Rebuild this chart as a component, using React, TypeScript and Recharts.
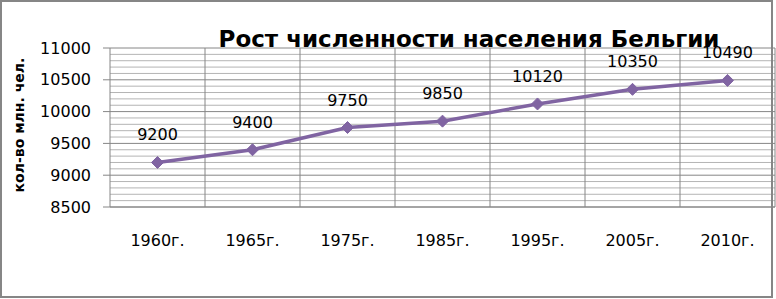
import React from "react";
import {
  LabelList,
  Line,
  LineChart,
  ReferenceLine,
  XAxis,
  YAxis,
} from "recharts";

const years = ["1960г.", "1965г.", "1975г.", "1985г.", "1995г.", "2005г.", "2010г."];
const population = [9200, 9400, 9750, 9850, 10120, 10350, 10490];
const majorTicks = [8500, 9000, 9500, 10000, 10500, 11000];
const minorTicks = [
  8600, 8700, 8800, 8900, 9100, 9200, 9300, 9400, 9600, 9700, 9800, 9900,
  10100, 10200, 10300, 10400, 10600, 10700, 10800, 10900,
];

const title = "Рост численности населения Бельгии";
const yTitle = "кол-во млн. чел.";

const W = 776;
const H = 299;
const font = "'DejaVu Sans', sans-serif";
const purple = "#8064a2";

const data = years.map((y, i) => ({ i, year: y, value: population[i] }));
// category boundaries for vertical gridlines
const bounds = years.map((_, i) => i + 0.5);

function Diamond(props: any) {
  const { cx, cy } = props;
  if (cx == null || cy == null) return null;
  const r = 6;
  return (
    <path
      d={`M${cx},${cy - r} L${cx + r},${cy} L${cx},${cy + r} L${cx - r},${cy} Z`}
      fill={purple}
      stroke={purple}
      strokeWidth={1}
    />
  );
}

function ValueLabel(props: any) {
  const { x, y, value } = props;
  return (
    <text x={x} y={y - 22} textAnchor="middle" fontSize={16} fontFamily={font} fill="#000">
      {value}
    </text>
  );
}

function XTick(props: any) {
  const { x, y, payload } = props;
  return (
    <text x={x} y={y + 31} textAnchor="middle" fontSize={16} fontFamily={font} fill="#000">
      {years[payload.value]}
    </text>
  );
}

export default function App() {
  return (
    <div style={{ position: "absolute", left: 0, top: 0, width: W, height: H, background: "#fff" }}>
      <LineChart
        width={W}
        height={H}
        data={data}
        margin={{ top: 48, right: 1, bottom: 0, left: 0 }}
      >
        <XAxis
          dataKey="i"
          type="number"
          domain={[-0.5, years.length - 0.5]}
          ticks={data.map((d) => d.i)}
          tick={<XTick />}
          tickLine={false}
          axisLine={{ stroke: "#868686" }}
          height={92}
          interval={0}
        />
        <YAxis
          domain={[8500, 11000]}
          ticks={majorTicks}
          width={110}
          tickSize={7}
          tickMargin={12}
          tickLine={{ stroke: "#868686" }}
          axisLine={{ stroke: "#868686" }}
          tick={{ fontSize: 16, fontFamily: font, fill: "#000" }}
          interval={0}
        />
        {minorTicks.map((t) => (
          <ReferenceLine key={`m${t}`} y={t} stroke="#b4b4b4" />
        ))}
        {majorTicks.map((t) => (
          <ReferenceLine key={`M${t}`} y={t} stroke="#868686" />
        ))}
        {bounds.map((b) => (
          <ReferenceLine key={b} x={b} stroke="#868686" />
        ))}
        <Line
          dataKey="value"
          stroke={purple}
          strokeWidth={3.5}
          dot={<Diamond />}
          activeDot={false}
          isAnimationActive={false}
        >
          <LabelList dataKey="value" content={<ValueLabel />} />
        </Line>
      </LineChart>
      <svg
        width={W}
        height={H}
        style={{ position: "absolute", left: 0, top: 0, pointerEvents: "none" }}
      >
        <text
          x={469}
          y={47}
          textAnchor="middle"
          fontSize={23}
          fontWeight="bold"
          fontFamily={font}
          fill="#000"
        >
          {title}
        </text>
        <text
          transform="translate(24,125) rotate(-90)"
          textAnchor="middle"
          fontSize={14}
          fontWeight="bold"
          fontFamily={font}
          fill="#000"
        >
          {yTitle}
        </text>
        <rect x={1} y={1} width={771} height={296} fill="none" stroke="#868686" strokeWidth={2} />
      </svg>
    </div>
  );
}
